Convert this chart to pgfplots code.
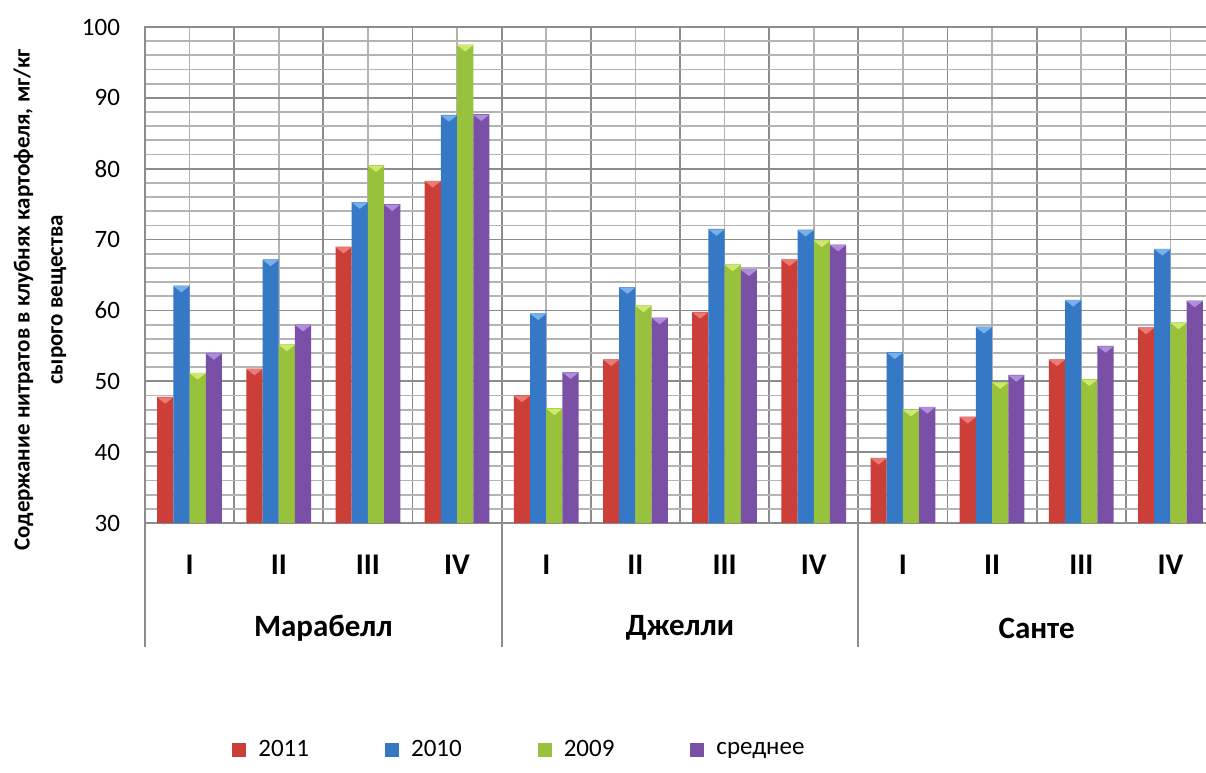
\documentclass[border=0pt]{standalone}
\usepackage{pgfplots}
\usepackage{pgfplotstable}
\pgfplotsset{compat=1.18}
\usepackage{fontspec}
\setmainfont{Carlito}
\definecolor{gridmaj}{HTML}{8C8C8C}
\definecolor{gridmin}{HTML}{B4B4B4}
\definecolor{axisc}{HTML}{8C8C8C}
\definecolor{rM}{HTML}{CC3F38}\definecolor{rL}{HTML}{EA7A72}
\definecolor{bM}{HTML}{3478C6}\definecolor{bL}{HTML}{78B0EA}
\definecolor{gM}{HTML}{98C23C}\definecolor{gL}{HTML}{CDEA6E}
\definecolor{pM}{HTML}{7A50A6}\definecolor{pL}{HTML}{B08DDC}

\pgfplotstableread{
x r b g p
0 47.8 63.5 51.2 54.0
1 51.8 67.2 55.2 58.0
2 69.0 75.3 80.5 75.0
3 78.3 87.6 97.5 87.7
4 48.0 59.6 46.2 51.3
5 53.1 63.3 60.7 59.0
6 59.8 71.5 66.5 65.8
7 67.2 71.4 69.9 69.3
8 39.2 54.1 46.0 46.4
9 45.0 57.7 49.9 50.9
10 53.1 61.5 50.3 55.0
11 57.6 68.7 58.3 61.4
}\data

\tikzset{cap/.style={path picture={\fill[#1] (path picture bounding box.north west) -- (path picture bounding box.north east) -- (path picture bounding box.south) -- cycle;}}}

\begin{document}
\begin{tikzpicture}
\begin{axis}[
  scale only axis, width=535pt, height=248pt,
  xmin=-0.5, xmax=11.5, ymin=30, ymax=100,
  clip=false,
  ybar=0pt, bar width=8.1pt,
  /pgf/number format/assume math mode=true,
  xtick={-0.5,0.5,...,11.5}, xticklabels={},
  minor xtick={0,...,11},
  extra x ticks={0,...,11},
  extra x tick labels={I,II,III,IV,I,II,III,IV,I,II,III,IV},
  extra x tick style={grid=none, xticklabel style={font=\bfseries\fontsize{15}{17}\selectfont, anchor=center, yshift=-21pt}},
  ytick={30,40,...,100}, minor ytick={32,34,...,98},
  grid=both,
  major grid style={gridmaj, line width=0.9pt},
  minor grid style={gridmin, line width=0.9pt},
  major tick length=0pt, minor tick length=0pt,
  axis line style={axisc, line width=1pt},
  yticklabel style={font=\fontsize{12.5}{14}\selectfont, xshift=-9pt},
  ylabel={Содержание нитратов в клубнях картофеля, мг/кг\\сырого вещества},
  ylabel style={align=center, font=\bfseries\fontsize{11.5}{16.5}\selectfont, at={(rel axis cs:-0.0981,0.45)}, anchor=center},
  nodes near coords={},
  every node near coord/.append style={rectangle, minimum width=8.1pt, minimum height=3.2pt, inner sep=0pt, anchor=north, draw=none, fill=none},
  legend columns=4,
  legend style={draw=none, fill=none, inner sep=0pt, at={(0,0)}, anchor=west, xshift=43.5pt, yshift=-113.5pt,
    font=\fontsize{12.5}{14}\selectfont,
    /tikz/every even column/.append style={column sep=36pt}},
  legend image code/.code={\path[#1] (0pt,-3.5pt) rectangle (7pt,3.5pt); \path (11pt,0pt);},
]
\addplot[draw=none, fill=rM, every node near coord/.append style={cap=rL}] table[x=x,y=r]{\data};
\addplot[draw=none, fill=bM, every node near coord/.append style={cap=bL}] table[x=x,y=b]{\data};
\addplot[draw=none, fill=gM, every node near coord/.append style={cap=gL}] table[x=x,y=g]{\data};
\addplot[draw=none, fill=pM, every node near coord/.append style={cap=pL}] table[x=x,y=p]{\data};
\legend{2011,2010,2009,среднее}
\foreach \gx in {-0.5,3.5,7.5,11.5}{
  \edef\tmp{\noexpand\draw[axisc, line width=1pt] (axis cs:\gx,30) -- ++(0pt,-62pt);}\tmp
}
\node[font=\bfseries\fontsize{15.5}{17}\selectfont, yshift=-52.5pt] at (axis cs:1.5,30) {Марабелл};
\node[font=\bfseries\fontsize{15.5}{17}\selectfont, yshift=-52.5pt] at (axis cs:5.5,30) {Джелли};
\node[font=\bfseries\fontsize{15.5}{17}\selectfont, yshift=-52.5pt] at (axis cs:9.5,30) {Санте};
\end{axis}
\pgfresetboundingbox
\useasboundingbox (-72.5pt,-124.5pt) rectangle (530.5pt,261.5pt);
\end{tikzpicture}
\end{document}
